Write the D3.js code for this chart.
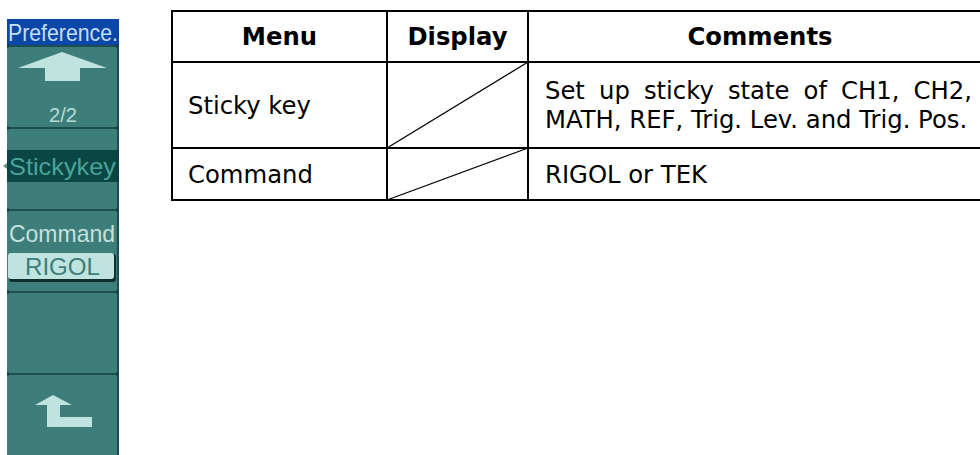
<!DOCTYPE html>
<html>
<head>
<meta charset="utf-8">
<script src="https://cdn.jsdelivr.net/npm/d3@7"></script>
<style>
  html, body { margin: 0; padding: 0; background: #ffffff; }
  svg { display: block; }
</style>
</head>
<body>
<script>
// ---- data ----
const headers = ["Menu", "Display", "Comments"];
const menuNames = ["Sticky key", "Command"];
const commentLines = [
  ["Set up sticky state of CH1, CH2,", "MATH, REF, Trig. Lev. and Trig. Pos."],
  ["RIGOL or TEK"]
];
const panelTitle = "Preference.";
const panelPage = "2/2";
const panelKeys = ["Stickykey", "Command"];
const panelValue = "RIGOL";

// ---- layout ----
const W = 980, H = 455;
const svg = d3.select("body").append("svg").attr("width", W).attr("height", H);

// ===== Left soft-key panel =====
const P = { x0: 7, x1: 119, title0: 19, title1: 45 };
const teal = "#3d7d7a", dark = "#0a4644", light = "#bfe3df", sep = "#123f3d";
const pf = "Liberation Sans, Arial, sans-serif";
const btnY = d3.range(6).map(i => 46 + i * 82); // button separators
const g = svg.append("g");

g.append("rect").attr("x", P.x0).attr("y", P.title1).attr("width", P.x1 - P.x0).attr("height", H - P.title1).attr("fill", teal);
g.append("rect").attr("x", P.x0).attr("y", P.title0).attr("width", P.x1 - P.x0).attr("height", P.title1 - P.title0).attr("fill", "#0a47a8");
g.append("text").attr("x", P.x0 + 1).attr("y", 41).text(panelTitle)
  .attr("font-family", pf).attr("font-size", 24)
  .attr("textLength", 110).attr("lengthAdjust", "spacingAndGlyphs").attr("fill", "#c4def2");

// Highlighted Stickykey band
g.append("rect").attr("x", P.x0).attr("y", 150).attr("width", P.x1 - P.x0).attr("height", 32).attr("fill", dark);
g.append("path").attr("d", "M3,166 L7,163 L7,169 Z").attr("fill", "#6a8f8d");
g.append("text").attr("x", 9).attr("y", 175).text(panelKeys[0])
  .attr("font-family", pf).attr("font-size", 24)
  .attr("textLength", 107).attr("lengthAdjust", "spacingAndGlyphs").attr("fill", "#4aa39b");

// separators
btnY.slice(0, 5).forEach(y => {
  g.append("line").attr("x1", P.x0).attr("x2", P.x1 - 1).attr("y1", y).attr("y2", y)
    .attr("stroke", sep).attr("stroke-width", 1.5);
  g.append("rect").attr("x", P.x0).attr("y", y - 1.5).attr("width", 2).attr("height", 3).attr("fill", sep);
  g.append("rect").attr("x", P.x1 - 3).attr("y", y - 1.5).attr("width", 2).attr("height", 3).attr("fill", sep);
});
// right edge
g.append("line").attr("x1", P.x1 - 1).attr("x2", P.x1 - 1).attr("y1", P.title1).attr("y2", H)
  .attr("stroke", sep).attr("stroke-width", 1.5);

// up arrow
g.append("path").attr("d", "M62,52 L107,68 L80,68 L80,81 L45,81 L45,68 L18,68 Z").attr("fill", light);
g.append("text").attr("x", 49).attr("y", 122).text(panelPage)
  .attr("font-family", pf).attr("font-size", 20)
  .attr("textLength", 28).attr("lengthAdjust", "spacingAndGlyphs").attr("fill", "#b8dcd8");

// Command key
g.append("text").attr("x", 9).attr("y", 242).text(panelKeys[1])
  .attr("font-family", pf).attr("font-size", 24)
  .attr("textLength", 106).attr("lengthAdjust", "spacingAndGlyphs").attr("fill", "#c6e0dc");
g.append("rect").attr("x", 9).attr("y", 254).attr("width", 107).attr("height", 28).attr("rx", 3)
  .attr("fill", "#0d2f2e");
g.append("rect").attr("x", 8).attr("y", 253).attr("width", 106).attr("height", 26).attr("rx", 3)
  .attr("fill", light);
g.append("text").attr("x", 25).attr("y", 275).text(panelValue)
  .attr("font-family", pf).attr("font-size", 23)
  .attr("textLength", 75).attr("lengthAdjust", "spacingAndGlyphs").attr("fill", "#3d7d7a");

// return arrow
g.append("path").attr("d", "M53,395 L72,405 L60,405 L60,417 L92,417 L92,427 L47,427 L47,405 L35,405 Z").attr("fill", light);

// ===== Table =====
const colX = [172, 387, 528, 992];
const rowY = [11, 62, 148, 200];
const fontT = "DejaVu Sans, Verdana, sans-serif";
const fs = 24.3;
const t = svg.append("g");

// header
headers.forEach((h, i) => {
  t.append("text").attr("x", (colX[i] + colX[i + 1]) / 2).attr("y", (rowY[0] + rowY[1]) / 2 + 8.8)
    .attr("text-anchor", "middle").attr("font-family", fontT).attr("font-weight", "bold")
    .attr("font-size", fs).attr("fill", "#000").text(h);
});

// menu names
menuNames.forEach((m, r) => {
  t.append("text").attr("x", colX[0] + 16).attr("y", (rowY[r + 1] + rowY[r + 2]) / 2 + 8.8)
    .attr("font-family", fontT).attr("font-size", fs).attr("fill", "#000").text(m);
});

// comments (justified except last line)
const lineH = 29;
commentLines.forEach((lines, r) => {
  const cy = (rowY[r + 1] + rowY[r + 2]) / 2;
  const y0 = cy - (lines.length - 1) * lineH / 2 + 8.8;
  const xL = colX[2] + 17, xR = colX[3] - 20;
  lines.forEach((ln, k) => {
    const y = y0 + k * lineH;
    const isLast = k === lines.length - 1;
    if (isLast) {
      t.append("text").attr("x", xL).attr("y", y).attr("font-family", fontT).attr("font-size", fs)
        .attr("fill", "#000").text(ln);
    } else {
      const words = ln.split(" ");
      const nodes = words.map(w => t.append("text").attr("y", y).attr("font-family", fontT)
        .attr("font-size", fs).attr("fill", "#000").text(w));
      const widths = nodes.map(n => n.node().getComputedTextLength());
      const gap = (xR - xL - d3.sum(widths)) / (words.length - 1);
      let x = xL;
      nodes.forEach((n, i) => { n.attr("x", x); x += widths[i] + gap; });
    }
  });
});

// diagonals in Display cells
[0, 1].forEach(r => {
  t.append("line").attr("x1", colX[1]).attr("y1", rowY[r + 2]).attr("x2", colX[2]).attr("y2", rowY[r + 1])
    .attr("stroke", "#000").attr("stroke-width", 1.3);
});

// grid lines
rowY.forEach(y => {
  t.append("line").attr("x1", colX[0] - 1).attr("x2", colX[3]).attr("y1", y).attr("y2", y)
    .attr("stroke", "#000").attr("stroke-width", 2);
});
colX.forEach(x => {
  t.append("line").attr("x1", x).attr("x2", x).attr("y1", rowY[0] - 1).attr("y2", rowY[3] + 1)
    .attr("stroke", "#000").attr("stroke-width", 2);
});
</script>
</body>
</html>
